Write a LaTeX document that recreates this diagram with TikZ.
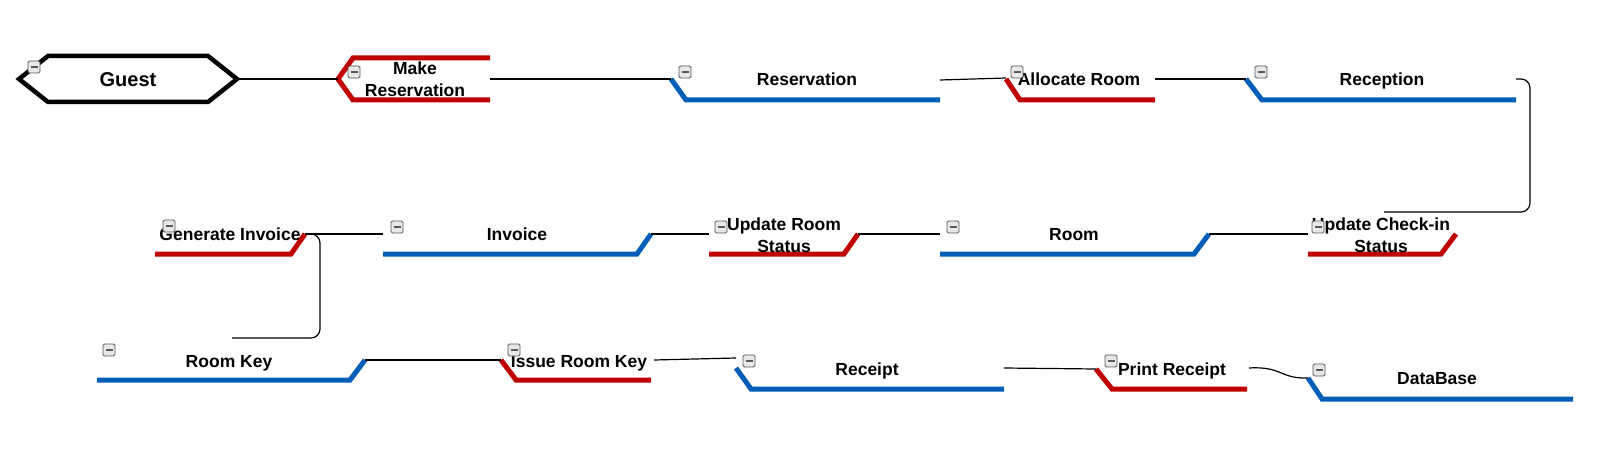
\documentclass[tikz,border=0pt]{standalone}
\usepackage{fontspec}
\setmainfont{Liberation Sans}
\definecolor{mred}{RGB}{192,0,0}
\definecolor{mblue}{RGB}{0,94,184}
\tikzset{
  lbl/.style={font=\bfseries\fontsize{17.5}{22}\selectfont, align=center, inner sep=0},
  lblone/.style={font=\bfseries\fontsize{17.5}{22}\selectfont, inner sep=0, text height=12.6pt, text depth=0pt},
  redline/.style={draw=mred, line width=5pt},
  blueline/.style={draw=mblue, line width=5pt},
  conn/.style={draw=black, line width=1.2pt},
  iconbox/.style={draw=gray!70!black, fill=gray!18, rounded corners=1.5pt, minimum size=12pt, inner sep=0, line width=0.8pt,
    path picture={\draw[line width=2pt] ([xshift=-3.5pt]path picture bounding box.center) -- ([xshift=3.5pt]path picture bounding box.center);}}
}
\begin{document}
\begin{tikzpicture}[x=1pt,y=-1pt]
\useasboundingbox (0,0) rectangle (1602,457);
% ---------- shapes ----------
\draw[line width=4.5pt, line join=miter] (19,79) -- (48,56) -- (208,56) -- (237,79) -- (208,102) -- (48,102) -- cycle;
\coordinate (guest-out) at (237,79);
\node[font=\bfseries\fontsize{20}{24}\selectfont, inner sep=0, text height=14.4pt, text depth=0pt] (guest) at (128,79) {Guest};

\draw[redline] (490,58) -- (353,58) -- (338,79) -- (353,100) -- (490,100);
\coordinate (mr-in) at (338,79); \coordinate (mr-out) at (490,79);
\node[lbl] (mr) at (415,79.5) {Make\\Reservation};

\draw[blueline] (671,79) -- (686,100) -- (940,100);
\coordinate (res-in) at (671,79); \coordinate (res-out) at (940,80);
\node[lblone] (res) at (807,79) {Reservation};

\draw[redline] (1006,79) -- (1020,100) -- (1155,100);
\coordinate (ar-in) at (1006,78); \coordinate (ar-out) at (1155,79);
\node[lblone] (ar) at (1079,79) {Allocate Room};

\draw[blueline] (1246,79) -- (1262,100) -- (1516,100);
\coordinate (rec-in) at (1246,79); \coordinate (rec-out) at (1516,79);
\node[lblone] (rec) at (1382,79) {Reception};

\draw[redline] (155,254) -- (291,254) -- (305,234);
\coordinate (gi-out) at (305,234);
\node[lblone] (gi) at (230,234) {Generate Invoice};

\draw[blueline] (383,254) -- (637,254) -- (651,234);
\coordinate (inv-in) at (383,234); \coordinate (inv-out) at (651,234);
\node[lblone] (inv) at (517,234) {Invoice};

\draw[redline] (709,254) -- (844,254) -- (858,234);
\coordinate (urs-in) at (709,234); \coordinate (urs-out) at (858,234);
\node[lbl] (urs) at (784,235) {Update Room\\Status};

\draw[blueline] (940,254) -- (1194,254) -- (1209,234);
\coordinate (room-in) at (940,234); \coordinate (room-out) at (1209,234);
\node[lblone] (room) at (1074,234) {Room};

\draw[redline] (1308,254) -- (1441,254) -- (1456,234);
\coordinate (uci-in) at (1308,234); \coordinate (uci-top) at (1384,212);
\node[lbl] (uci) at (1381,235) {Update Check-in\\Status};

\draw[blueline] (97,380) -- (350,380) -- (365,360);
\coordinate (rk-top) at (232,338); \coordinate (rk-out) at (365,360);
\node[lblone] (rk) at (229,361) {Room Key};

\draw[redline] (501,360) -- (516,380) -- (651,380);
\coordinate (irk-in) at (501,360); \coordinate (irk-out) at (654,360);
\node[lblone] (irk) at (579,361) {Issue Room Key};

\draw[blueline] (736,368) -- (751,389) -- (1004,389);
\coordinate (rcp-in) at (736,358); \coordinate (rcp-out) at (1004,368);
\node[lblone] (rcp) at (867,369) {Receipt};

\draw[redline] (1096,369) -- (1112,389) -- (1247,389);
\coordinate (pr-in) at (1096,369); \coordinate (pr-out) at (1249,368);
\node[lblone] (pr) at (1172,369) {Print Receipt};

\draw[blueline] (1308,378) -- (1322,399) -- (1573,399);
\coordinate (db-in) at (1308,378);
\node[lblone] (db) at (1437,378) {DataBase};

% ---------- connectors ----------
\draw[conn] (guest-out) -- (mr-in);
\draw[conn] (mr-out) -- (res-in);
\draw[conn] (res-out) -- (ar-in);
\draw[conn] (ar-out) -- (rec-in);
\draw[conn, rounded corners=9pt] (rec-out) -- (1530,79) -- (1530,212) -- (uci-top);
\draw[conn] (room-out) -- (uci-in);
\draw[conn] (urs-out) -- (room-in);
\draw[conn] (inv-out) -- (urs-in);
\draw[conn] (gi-out) -- (inv-in);
\draw[conn, rounded corners=9pt] (gi-out) -- (320,234) -- (320,338) -- (rk-top);
\draw[conn] (rk-out) -- (irk-in);
\draw[conn] (irk-out) -- (rcp-in);
\draw[conn] (rcp-out) -- (pr-in);
\draw[conn] (pr-out) .. controls (1282,366) and (1280,379) .. (db-in);

% ---------- collapse icons ----------
\node[iconbox] (i1) at (34,67) {};
\node[iconbox] (i2) at (354,72) {};
\node[iconbox] (i3) at (685,72) {};
\node[iconbox] (i4) at (1017,72) {};
\node[iconbox] (i5) at (1261,72) {};
\node[iconbox] (i6) at (169,226) {};
\node[iconbox] (i7) at (397,227) {};
\node[iconbox] (i8) at (721,227) {};
\node[iconbox] (i9) at (953,227) {};
\node[iconbox] (i10) at (1318,227) {};
\node[iconbox] (i11) at (109,350) {};
\node[iconbox] (i12) at (514,350) {};
\node[iconbox] (i13) at (749,361) {};
\node[iconbox] (i14) at (1111,361) {};
\node[iconbox] (i15) at (1319,370) {};
\end{tikzpicture}
\end{document}
